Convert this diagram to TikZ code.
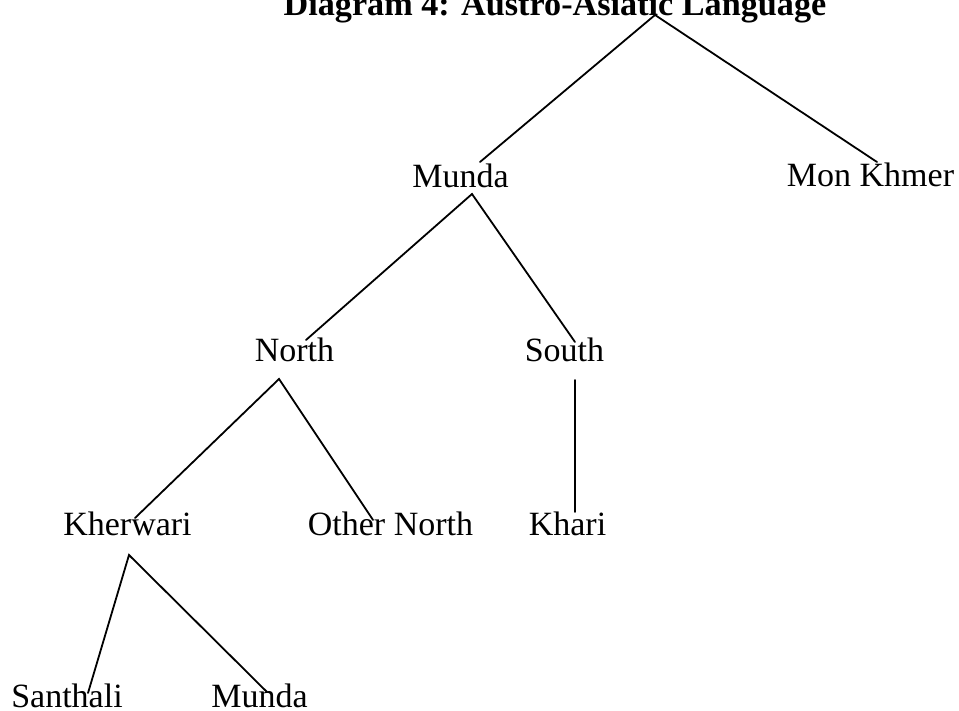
\documentclass[tikz,border=0pt]{standalone}
\usepackage{fontspec}
\setmainfont{Liberation Serif}
\begin{document}
\begin{tikzpicture}[x=1pt,y=-1pt,
  lang/.style={anchor=base,inner sep=0pt,font=\fontsize{34}{40}\selectfont},
  branch/.style={line width=1.8pt,line cap=round}]
\useasboundingbox (0,0) rectangle (959,711);

% title and language labels
\node[lang,font=\fontsize{34.2}{40}\selectfont\bfseries] (title) at (555,15.5) {Diagram 4: Austro-Asiatic Language};
\node[lang] (munda)   at (460.5,188) {Munda};
\node[lang] (monkh)   at (870.5,187) {Mon Khmer};
\node[lang] (north)   at (294.5,362) {North};
\node[lang] (south)   at (564.5,362) {South};
\node[lang] (kherw)   at (127.5,535) {Kherwari};
\node[lang] (othern)  at (390.5,535) {Other North};
\node[lang] (khari)   at (567.5,535) {Khari};
\node[lang] (santh)   at (67,707)    {Santhali};
\node[lang] (mundab)  at (259.5,707) {Munda};

% branching points and branch ends
\coordinate (root)     at (655,15);
\coordinate (munda-up) at (480,162);
\coordinate (monkh-up) at (877,162);
\coordinate (munda-dn) at (472,194);
\coordinate (north-up) at (306,340);
\coordinate (south-up) at (575,342);
\coordinate (north-dn) at (279,379);
\coordinate (south-dn) at (575,380);
\coordinate (kherw-up) at (135,518);
\coordinate (othern-up) at (373,520);
\coordinate (khari-up) at (575,512);
\coordinate (kherw-dn) at (129,555);
\coordinate (santh-up) at (88,693);
\coordinate (mundab-up) at (267,692);

\draw[branch] (munda-up) -- (root) -- (monkh-up);
\draw[branch] (north-up) -- (munda-dn) -- (south-up);
\draw[branch] (kherw-up) -- (north-dn) -- (othern-up);
\draw[branch] (south-dn) -- (khari-up);
\draw[branch] (santh-up) -- (kherw-dn) -- (mundab-up);
\end{tikzpicture}
\end{document}
